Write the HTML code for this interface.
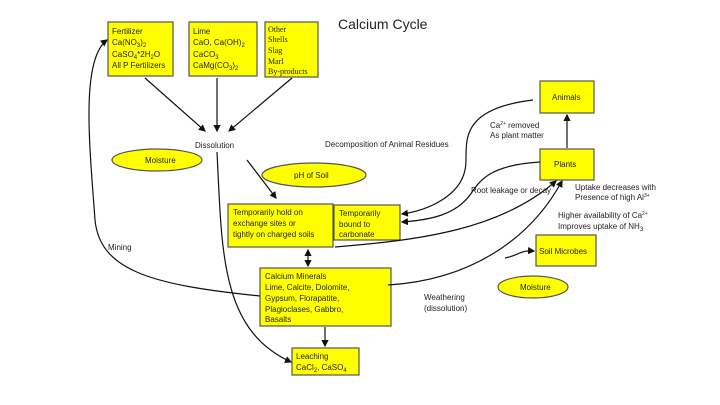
<!DOCTYPE html>
<html><head><style>
body{margin:0;background:#fff;}
svg{display:block;font-family:"Liberation Sans",sans-serif;}
</style></head><body>
<svg width="720" height="405" viewBox="0 0 720 405">
<defs><marker id="a" markerWidth="6" markerHeight="6" refX="5" refY="3" orient="auto"><path d="M0,0 L6,3 L0,6z" fill="#111"/></marker>
<marker id="b" markerWidth="6" markerHeight="6" refX="1" refY="3" orient="auto"><path d="M6,0 L0,3 L6,6z" fill="#111"/></marker></defs>
<g fill="#ffff00" stroke="#555" stroke-width="1.2">
<rect x="108" y="22" width="65" height="54"/>
<rect x="189" y="22" width="68" height="54"/>
<rect x="265" y="22" width="53" height="55"/>
<rect x="228" y="204" width="105" height="43"/>
<rect x="334" y="205" width="66" height="35"/>
<rect x="260" y="268" width="131" height="58"/>
<rect x="292" y="348" width="67" height="27"/>
<rect x="540" y="81" width="54" height="32"/>
<rect x="540" y="149" width="54" height="31"/>
<rect x="536" y="235" width="60" height="31"/>
<ellipse cx="157" cy="160" rx="45" ry="11"/>
<ellipse cx="314" cy="175" rx="52" ry="12"/>
<ellipse cx="533" cy="287" rx="35" ry="11"/>
</g>
<g fill="none" stroke="#111" stroke-width="1.2">
<line x1="145" y1="78" x2="205" y2="131" marker-end="url(#a)"/>
<line x1="217" y1="78" x2="217" y2="131" marker-end="url(#a)"/>
<line x1="292" y1="78" x2="229" y2="131" marker-end="url(#a)"/>
<line x1="247" y1="160" x2="276" y2="198" marker-end="url(#a)"/>
<path d="M217,152 C222,250 220,330 291,362" marker-end="url(#a)"/>
<path d="M260,296 C150,285 100,270 95,220 C90,150 80,60 107,40" marker-end="url(#a)"/>
<line x1="308" y1="250" x2="308" y2="266" marker-end="url(#a)" marker-start="url(#b)"/>
<line x1="325" y1="327" x2="325" y2="346" marker-end="url(#a)"/>
<line x1="567" y1="148" x2="567" y2="115" marker-end="url(#a)"/>
<path d="M533,100 C450,110 470,150 465,170 C460,195 430,210 402,214" marker-end="url(#a)"/>
<path d="M540,162 C490,165 480,180 470,195 C455,215 430,220 402,222" marker-end="url(#a)"/>
<path d="M335,247 C420,240 500,230 556,181" marker-end="url(#a)"/>
<path d="M388,285 C470,280 530,240 562,181" marker-end="url(#a)"/>
<path d="M505,258 C520,255 520,250 534,251" marker-end="url(#a)"/>
</g>
<g font-size="8" fill="#222">
<text x="112" y="34">Fertilizer</text><text x="112" y="45">Ca(NO<tspan font-size="6" dy="2">3</tspan><tspan dy="-2">)</tspan><tspan font-size="6" dy="2">2</tspan></text>
<text x="112" y="57">CaSO<tspan font-size="6" dy="2">4</tspan><tspan dy="-2">*2H</tspan><tspan font-size="6" dy="2">2</tspan><tspan dy="-2">O</tspan></text>
<text x="112" y="68">All P Fertilizers</text>
<text x="193" y="34">Lime</text><text x="193" y="45">CaO, Ca(OH)<tspan font-size="6" dy="2">2</tspan></text>
<text x="193" y="57">CaCO<tspan font-size="6" dy="2">3</tspan></text><text x="193" y="68">CaMg(CO<tspan font-size="6" dy="2">3</tspan><tspan dy="-2">)</tspan><tspan font-size="6" dy="2">2</tspan></text>
<g font-family="Liberation Serif,serif"><text x="268" y="32">Other</text><text x="268" y="42">Shells</text><text x="268" y="53">Slag</text><text x="268" y="64">Marl</text><text x="268" y="74">By-products</text></g>
<text x="338" y="29" font-size="14">Calcium Cycle</text>
<text x="195" y="148">Dissolution</text>
<text x="145" y="163">Moisture</text>
<text x="294" y="178">pH of Soil</text>
<text x="520" y="290">Moisture</text>
<text x="325" y="147">Decomposition of Animal Residues</text>
<text x="490" y="128">Ca<tspan font-size="5" dy="-3">2+</tspan><tspan dy="3"> removed</tspan></text><text x="490" y="138">As plant matter</text>
<text x="471" y="193">Root leakage or decay</text>
<text x="575" y="190">Uptake decreases with</text><text x="575" y="200">Presence of high Al<tspan font-size="5" dy="-3">3+</tspan></text>
<text x="558" y="218">Higher availability of Ca<tspan font-size="5" dy="-3">2+</tspan></text><text x="558" y="229">Improves uptake of NH<tspan font-size="6" dy="2">3</tspan></text>
<text x="424" y="300">Weathering</text><text x="424" y="311">(dissolution)</text>
<text x="108" y="250">Mining</text>
<text x="552" y="100">Animals</text>
<text x="554" y="167">Plants</text>
<text x="539" y="254">Soil Microbes</text>
<text x="233" y="215">Temporarily hold on</text><text x="233" y="226">exchange sites or</text><text x="233" y="237">tightly on charged soils</text>
<text x="339" y="216">Temporarily</text><text x="339" y="227">bound to</text><text x="339" y="237">carbonate</text>
<text x="265" y="279">Calcium Minerals</text><text x="265" y="290">Lime, Calcite, Dolomite,</text><text x="265" y="301">Gypsum, Florapatite,</text><text x="265" y="312">Plagioclases, Gabbro,</text><text x="265" y="322">Basalts</text>
<text x="296" y="359">Leaching</text><text x="296" y="370">CaCl<tspan font-size="6" dy="2">2</tspan><tspan dy="-2">, CaSO</tspan><tspan font-size="6" dy="2">4</tspan></text>
</g>
</svg>
</body></html>
